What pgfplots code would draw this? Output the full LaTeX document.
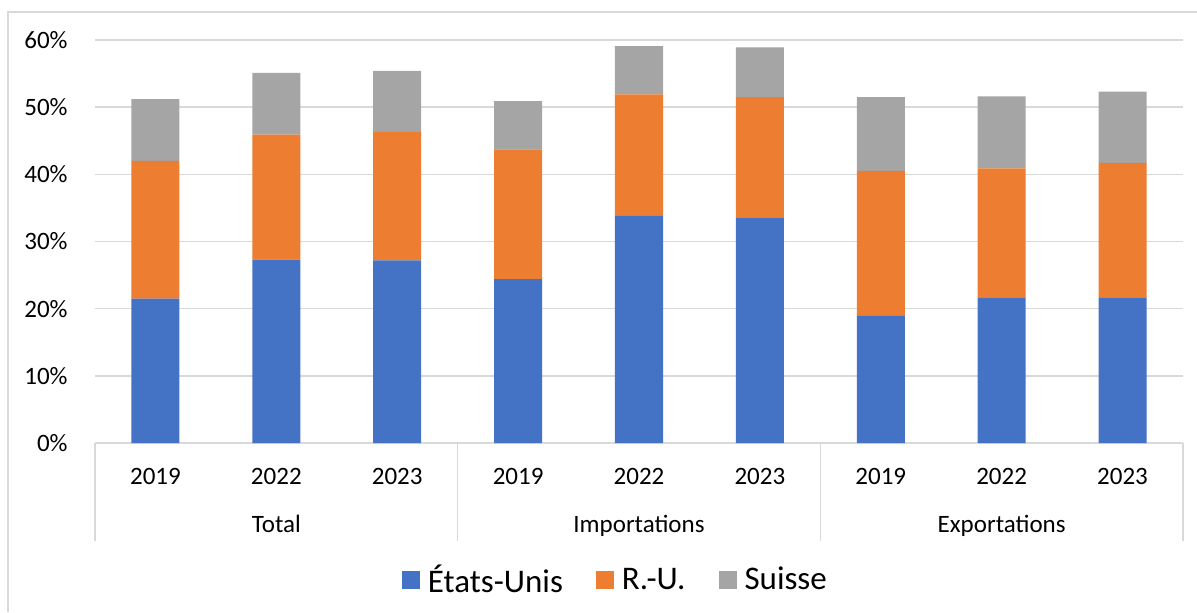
\documentclass[border=0pt]{standalone}
\usepackage{pgfplots}
\pgfplotsset{compat=1.18}
\usepackage{fontspec}
\setmainfont{Carlito}

\definecolor{xblue}{HTML}{4472C4}
\definecolor{xorange}{HTML}{ED7D31}
\definecolor{xgrey}{HTML}{A5A5A5}
\definecolor{gridgray}{HTML}{D9D9D9}

\begin{document}
\begin{tikzpicture}
\useasboundingbox (0,0) rectangle (598.5pt,-306pt);
% chart frame (only top and left visible)
\draw[gridgray, line width=0.75pt] (4pt,-306pt) -- (4pt,-6pt) -- (598.5pt,-6pt);

\begin{axis}[
  at={(47.5pt,-221.5pt)}, anchor=south west,
  scale only axis,
  width=544pt, height=201.5pt,
  ybar stacked, bar width=24pt,
  xmin=-0.5, xmax=8.5,
  ymin=0, ymax=60,
  ytick={0,10,...,60},
  yticklabel={\pgfmathprintnumber{\tick}\%},
  /pgf/number format/assume math mode=true,
  xtick={0,...,8},
  xticklabels={2019,2022,2023,2019,2022,2023,2019,2022,2023},
  axis line style={draw=none},
  major tick length=0pt,
  ymajorgrids,
  grid style={gridgray, line width=0.75pt},
  ticklabel style={font=\fontsize{12.5}{14}\selectfont, text=black},
  yticklabel style={anchor=east, inner sep=0pt, xshift=-13.5pt},
  xticklabel style={anchor=base, inner sep=0pt, yshift=-20.5pt},
  clip=false,
  legend columns=3,
  legend style={at={(0.4765,-0.34)}, anchor=center, draw=none,
    font=\fontsize{16.5}{19}\selectfont,
    nodes={inner sep=2pt},
    /tikz/every even column/.append style={column sep=11.5pt}},
  legend image code/.code={\fill[#1] (3pt,-4.5pt) rectangle (12pt,4.5pt); \path (0pt,0pt) (14pt,0pt);},
]
\addplot[fill=xblue, draw=none] coordinates {
(0,21.5) (1,27.3) (2,27.2) (3,24.4) (4,33.9) (5,33.6) (6,19.0) (7,21.7) (8,21.7)};
\addlegendentry{États-Unis}
\addplot[fill=xorange, draw=none] coordinates {
(0,20.5) (1,18.6) (2,19.1) (3,19.3) (4,18.0) (5,17.9) (6,21.5) (7,19.2) (8,20.0)};
\addlegendentry{R.-U.}
\addplot[fill=xgrey, draw=none] coordinates {
(0,9.2) (1,9.2) (2,9.1) (3,7.2) (4,7.2) (5,7.4) (6,11.0) (7,10.7) (8,10.6)};
\addlegendentry{Suisse}

% group separators below the axis
\draw[gridgray, line width=0.75pt] (axis cs:-0.5,0) -- ([yshift=-49pt]axis cs:-0.5,0);
\draw[gridgray, line width=0.75pt] (axis cs:2.5,0) -- ([yshift=-49pt]axis cs:2.5,0);
\draw[gridgray, line width=0.75pt] (axis cs:5.5,0) -- ([yshift=-49pt]axis cs:5.5,0);
\draw[gridgray, line width=0.75pt] (axis cs:8.5,0) -- ([yshift=-49pt]axis cs:8.5,0);
\node[anchor=base, inner sep=0pt, font=\fontsize{12.5}{14}\selectfont] at ([yshift=-44.5pt]axis cs:1,0) {Total};
\node[anchor=base, inner sep=0pt, font=\fontsize{12.5}{14}\selectfont] at ([yshift=-44.5pt]axis cs:4,0) {Importations};
\node[anchor=base, inner sep=0pt, font=\fontsize{12.5}{14}\selectfont] at ([yshift=-44.5pt]axis cs:7,0) {Exportations};
\end{axis}
\end{tikzpicture}
\end{document}
